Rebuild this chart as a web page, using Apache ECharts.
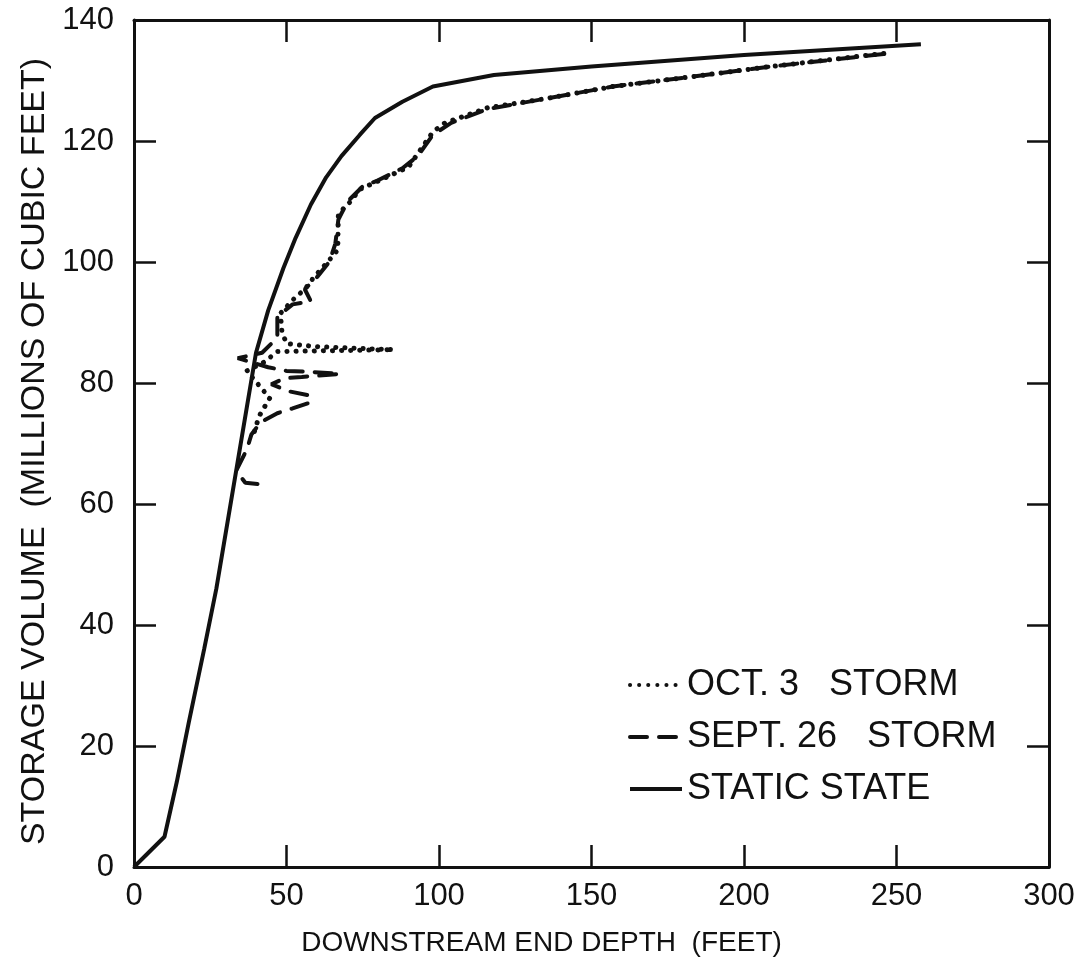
<!DOCTYPE html>
<html>
<head>
<meta charset="utf-8">
<script src="https://cdn.jsdelivr.net/npm/echarts@6/dist/echarts.min.js"></script>
<style>
html,body{margin:0;padding:0;background:#fff;}
#chart{width:1088px;height:972px;}
</style>
</head>
<body>
<div id="chart"></div>
<script>
// ---- data ----
var xTicks = [0, 50, 100, 150, 200, 250, 300];
var yTicks = [0, 20, 40, 60, 80, 100, 120, 140];

var staticX = [0, 10, 14, 18, 23, 27, 31, 34, 37, 40, 44, 49, 53, 58, 63, 68, 74, 79, 88, 98, 118, 150, 200, 258];
var staticY = [0, 5, 14, 24, 36, 46, 58, 67, 76, 85, 92, 99, 104, 109.5, 114, 117.5, 121, 123.8, 126.5, 129, 130.9, 132.3, 134.2, 136];

var oct3X = [39.5, 41, 44.5, 42, 39.5, 37, 42.8, 47, 60, 85, 60, 50, 48.5, 48, 52.6, 56, 59, 63.5, 66.8, 67, 71, 74, 81, 90, 98, 102, 116, 135, 157, 184, 207, 248];
var oct3Y = [72, 74.5, 77.5, 79, 80.5, 82, 83.5, 85.2, 85.3, 85.5, 86, 86.5, 88.5, 91.5, 94, 95.5, 97.5, 100, 102, 108, 110, 112, 113.6, 115.7, 121.5, 123, 125.5, 127, 129, 130.7, 132.2, 134.6];

var sept26X = [40.5, 36.5, 33.5, 37, 38.5, 41.5, 47, 52, 58, 57, 51, 45, 49.5, 55, 67.5, 56, 50, 44, 34, 42, 47, 47, 52, 58, 56, 60, 64, 66, 67, 70, 75, 80, 88, 93, 98, 104, 116, 135, 157, 184, 207, 246];
var sept26Y = [63.3, 63.5, 65.5, 69, 71.5, 73.5, 75, 75.8, 76.8, 78, 78.6, 79.8, 80.8, 81, 81.5, 81.9, 82, 82.6, 84.1, 85, 87.5, 91, 93, 93.5, 95.5, 97.5, 100, 103, 107, 110, 112.5, 113.5, 115.5, 117.5, 121, 123, 125.3, 127, 129, 130.7, 132.2, 134.4];

var seriesNames = ['OCT. 3   STORM', 'SEPT. 26   STORM', 'STATIC STATE'];
var xTitle = 'DOWNSTREAM END DEPTH  (FEET)';
var yTitle = 'STORAGE VOLUME  (MILLIONS OF CUBIC FEET)';

function pairs(xs, ys) { return xs.map(function (x, i) { return [x, ys[i]]; }); }

var FONT = '"Liberation Sans", Arial, Helvetica, sans-serif';
var INK = '#111';

function frameAxis(base) {
  return Object.assign({
    type: 'value', min: 0, splitLine: { show: false },
    axisLine: { show: true, onZero: false, lineStyle: { color: INK, width: 3 } },
    axisTick: { show: true, inside: true, length: 22, lineStyle: { color: INK, width: 2.5 } }
  }, base);
}

var chart = echarts.init(document.getElementById('chart'), null, { renderer: 'canvas' });
chart.setOption({
  backgroundColor: '#fff',
  animation: false,
  grid: { left: 134, right: 39, top: 20, bottom: 105, containLabel: false },
  xAxis: [
    frameAxis({ position: 'bottom', max: 300, interval: 50,
      name: xTitle, nameLocation: 'middle', nameGap: 62,
      nameTextStyle: { fontFamily: FONT, fontSize: 28, color: INK, padding: [0, 100, 0, 0] },
      axisLabel: { show: true, margin: 14, fontFamily: FONT, fontSize: 31, color: INK } }),
    frameAxis({ position: 'top', max: 300, interval: 50, axisLabel: { show: false } })
  ],
  yAxis: [
    frameAxis({ position: 'left', max: 140, interval: 20,
      name: yTitle, nameLocation: 'middle', nameGap: 62,
      nameTextStyle: { fontFamily: FONT, fontSize: 34, color: INK, padding: [0, 16, 0, 0] },
      axisLabel: { show: true, margin: 20, fontFamily: FONT, fontSize: 31, color: INK } }),
    frameAxis({ position: 'right', max: 140, interval: 20, axisLabel: { show: false } })
  ],
  legend: {
    orient: 'vertical', left: 623, top: 662, itemWidth: 52, itemHeight: 20, itemGap: 16,
    itemStyle: { opacity: 0 },
    lineStyle: { width: 4 },
    textStyle: { fontFamily: FONT, fontSize: 36, color: INK },
    data: seriesNames
  },
  series: [
    { name: seriesNames[0], type: 'line', symbol: 'none', data: pairs(oct3X, oct3Y),
      itemStyle: { color: INK },
      lineStyle: { color: INK, width: 5, type: [0.1, 9], cap: 'round' } },
    { name: seriesNames[1], type: 'line', symbol: 'none', data: pairs(sept26X, sept26Y),
      itemStyle: { color: INK },
      lineStyle: { color: INK, width: 4, type: [17, 12], cap: 'round' } },
    { name: seriesNames[2], type: 'line', symbol: 'none', data: pairs(staticX, staticY),
      itemStyle: { color: INK },
      lineStyle: { color: INK, width: 4, type: 'solid' } }
  ]
});
</script>
</body>
</html>
